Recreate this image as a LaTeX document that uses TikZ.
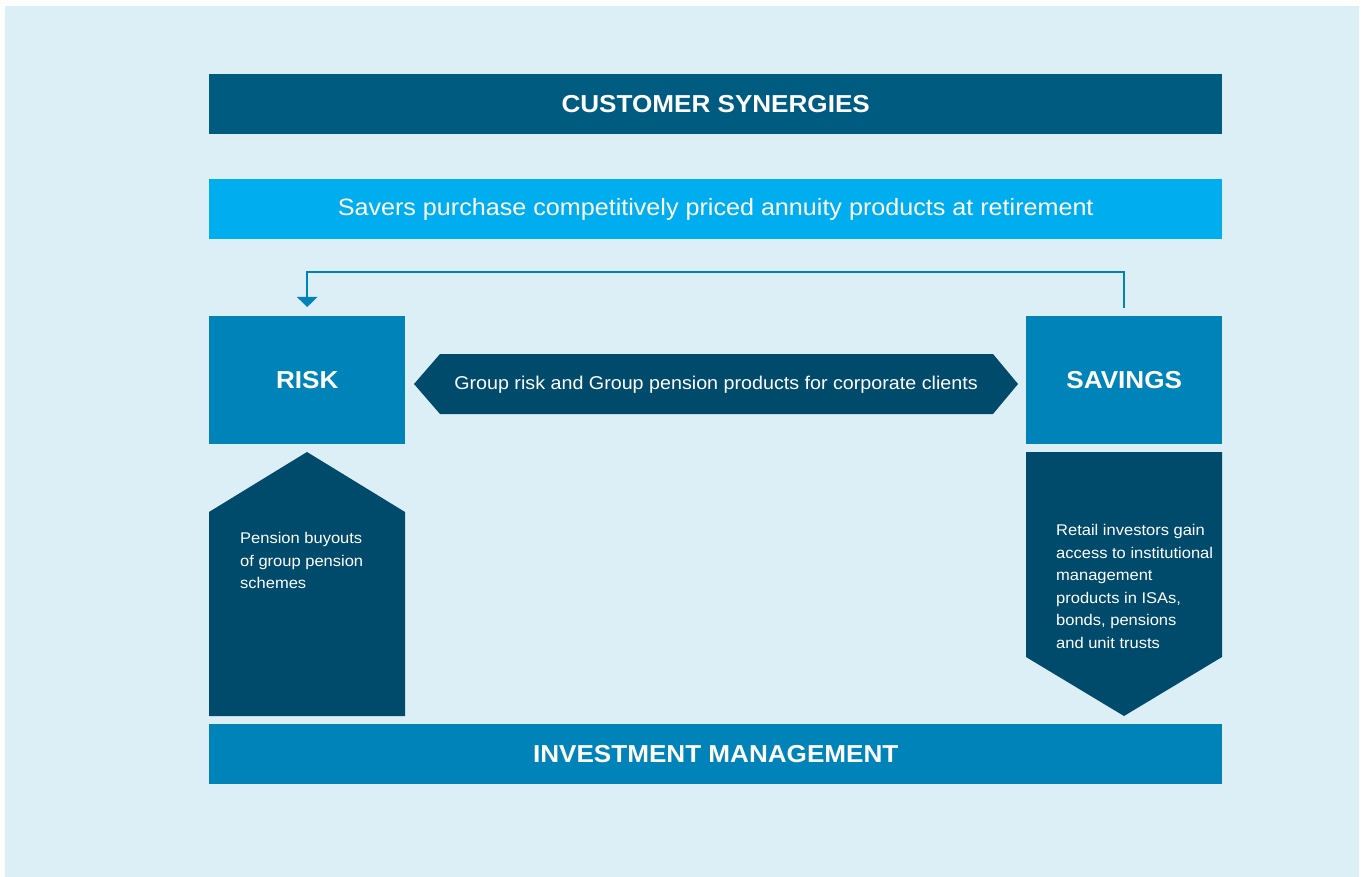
\documentclass[tikz,border=0pt]{standalone}
\usepackage{fontspec}
\setmainfont{Liberation Sans}[FakeStretch=1.065]
\usetikzlibrary{arrows.meta}
\definecolor{bgblue}{HTML}{DCEEF6}
\definecolor{headteal}{HTML}{005B80}
\definecolor{brightblue}{HTML}{00AEEF}
\definecolor{midblue}{HTML}{0083B8}
\definecolor{deepblue}{HTML}{004A6B}
\begin{document}
\begin{tikzpicture}[x=1pt,y=-1pt,
  bar/.style={anchor=north west,inner sep=0pt,minimum width=1013pt,minimum height=60pt,text=white},
  pillar/.style={anchor=north west,inner sep=0pt,minimum width=196pt,minimum height=128pt,fill=midblue,text=white,
    font=\fontsize{24.5}{28}\selectfont\bfseries},
  heading/.style={font=\fontsize{24.5}{28}\selectfont\bfseries},
  plain/.style={font=\fontsize{23.6}{26}\selectfont},
  blurb/.style={text=white,align=left,inner sep=0pt,anchor=north west,font=\fontsize{15.5}{22.6}\selectfont},
  feedback/.style={draw=midblue,line width=2.5pt,-{Triangle[width=20pt,length=10pt]}}]
% canvas
\useasboundingbox (0,0) rectangle (1365,877);
\fill[white] (0,0) rectangle (1365,877);
\fill[bgblue] (5,6) rectangle (1359,877);
% horizontal bands
\node[bar,fill=headteal,heading] (cs) at (209,74) {CUSTOMER SYNERGIES};
\node[bar,fill=brightblue,plain] (savers) at (209,179) {Savers purchase competitively priced annuity products at retirement};
\node[bar,fill=midblue,heading] (im) at (209,724) {INVESTMENT MANAGEMENT};
% the two business pillars
\node[pillar] (risk) at (209,316) {RISK};
\node[pillar] (savings) at (1026,316) {SAVINGS};
% loop from savings back to risk
\draw[feedback,shorten <=8pt,shorten >=9pt] (savings.north) -- ++(0,-44) -| (risk.north);
% two-headed arrow between the pillars
\fill[deepblue] (414,384) -- (440,354) -- (993,354) -- (1018,384) -- (993,414) -- (440,414) -- cycle;
\node[text=white,font=\fontsize{18.5}{22}\selectfont] (link) at (716,385) {Group risk and Group pension products for corporate clients};
% upward arrow below risk
\fill[deepblue] (209,716) -- (209,512) -- (307,452) -- (405,512) -- (405,716) -- cycle;
\node[blurb] (buyout) at (240,532) {Pension buyouts\\of group pension\\schemes};
% downward arrow below savings
\fill[deepblue] (1026,452) -- (1222,452) -- (1222,657) -- (1124,716) -- (1026,657) -- cycle;
\node[blurb] (retail) at (1056,524) {Retail investors gain\\access to institutional\\management\\products in ISAs,\\bonds, pensions\\and unit trusts};
\end{tikzpicture}
\end{document}
